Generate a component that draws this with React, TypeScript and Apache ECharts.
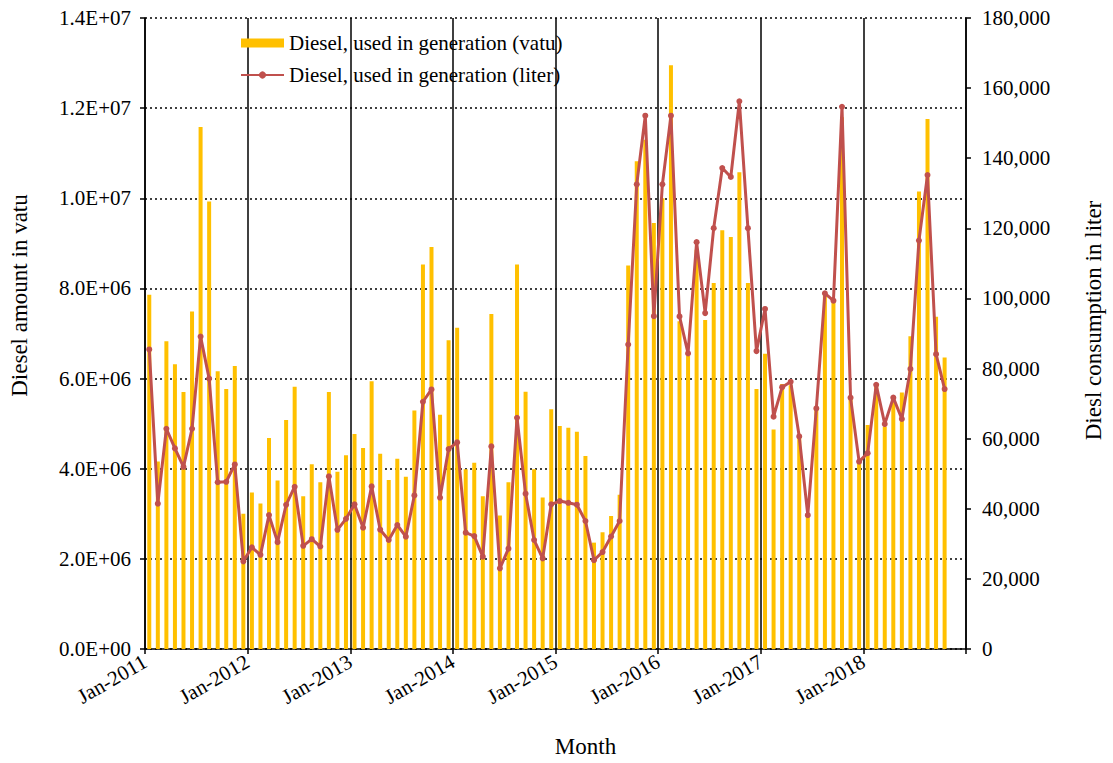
import React, { useEffect, useRef } from "react";
import * as echarts from "echarts";

const startYear = 2011;
const monthNames = ["Jan", "Feb", "Mar", "Apr", "May", "Jun", "Jul", "Aug", "Sep", "Oct", "Nov", "Dec"];

// Diesel used in generation (vatu), monthly Jan-2011 .. Oct-2018
const vatu2011 = [7.86e6, 4.16e6, 6.83e6, 6.32e6, 5.70e6, 7.49e6, 11.58e6, 9.93e6, 6.16e6, 5.77e6, 6.28e6, 3.0e6];
const vatu2012 = [3.47e6, 3.23e6, 4.68e6, 3.74e6, 5.08e6, 5.82e6, 3.39e6, 4.10e6, 3.70e6, 5.70e6, 3.93e6, 4.30e6];
const vatu2013 = [4.77e6, 4.46e6, 5.94e6, 4.33e6, 3.75e6, 4.22e6, 3.82e6, 5.29e6, 8.53e6, 8.92e6, 5.20e6, 6.85e6];
const vatu2014 = [7.13e6, 3.99e6, 4.13e6, 3.39e6, 7.43e6, 2.96e6, 3.70e6, 8.53e6, 5.71e6, 3.99e6, 3.36e6, 5.32e6];
const vatu2015 = [4.95e6, 4.91e6, 4.82e6, 4.28e6, 2.36e6, 2.59e6, 2.95e6, 3.42e6, 8.51e6, 10.82e6, 11.3e6, 9.45e6];
const vatu2016 = [10.0e6, 12.95e6, 7.27e6, 6.50e6, 8.86e6, 7.30e6, 8.12e6, 9.29e6, 9.14e6, 10.58e6, 8.12e6, 5.77e6];
const vatu2017 = [6.55e6, 4.87e6, 5.88e6, 5.85e6, 4.70e6, 2.97e6, 5.34e6, 7.89e6, 7.73e6, 11.8e6, 5.55e6, 4.16e6];
const vatu2018 = [4.97e6, 5.88e6, 4.93e6, 5.51e6, 5.69e6, 6.94e6, 10.15e6, 11.76e6, 7.37e6, 6.47e6];

// Diesel used in generation (liter)
const liter2011 = [85450, 41450, 62830, 57230, 51940, 62830, 89110, 77140, 47560, 47700, 52650, 25000];
const liter2012 = [29000, 26860, 38190, 30480, 41140, 46290, 29430, 31330, 29240, 49240, 34000, 37140];
const liter2013 = [41260, 34600, 46390, 34030, 31090, 35370, 32030, 43820, 70530, 74050, 43160, 57040];
const liter2014 = [58940, 33180, 32220, 26330, 57800, 23000, 28610, 65970, 44300, 31090, 25860, 41260];
const liter2015 = [42210, 41710, 41160, 36510, 25340, 27660, 32090, 36510, 86860, 132550, 152140, 94930];
const liter2016 = [132550, 152140, 94880, 84310, 116060, 95820, 120050, 137200, 134660, 156240, 120050, 84980];
const liter2017 = [97000, 66270, 74680, 76230, 60630, 38170, 68630, 101450, 99350, 154680, 71700, 53440];
const liter2018 = [55870, 75350, 64170, 71700, 65610, 79890, 116510, 135220, 84090, 74150];

const vatu = [...vatu2011, ...vatu2012, ...vatu2013, ...vatu2014, ...vatu2015, ...vatu2016, ...vatu2017, ...vatu2018];
const liter = [...liter2011, ...liter2012, ...liter2013, ...liter2014, ...liter2015, ...liter2016, ...liter2017, ...liter2018];
const months = vatu.map((_, i) => `${monthNames[i % 12]}-${startYear + Math.floor(i / 12)}`);

const totalMonths = 96; // axis spans Jan-2011 .. Jan-2019
const nameVatu = "Diesel, used in generation (vatu)";
const nameLiter = "Diesel, used in generation (liter)";

const FONT = "'Liberation Serif', 'Times New Roman', serif";

function sci(v: number): string {
  if (v === 0) return "0.0E+00";
  const e = Math.floor(Math.log10(v) + 1e-9);
  const m = v / Math.pow(10, e);
  return `${m.toFixed(1)}E+${String(e).padStart(2, "0")}`;
}

export default function App() {
  const ref = useRef<HTMLDivElement>(null);
  useEffect(() => {
    if (!ref.current) return;
    const chart = echarts.init(ref.current, undefined, { renderer: "svg" });
    chart.setOption({
      animation: false,
      backgroundColor: "#ffffff",
      textStyle: { fontFamily: FONT, color: "#000" },
      grid: { left: 145, right: 137, top: 18, bottom: 104, containLabel: false },
      legend: {
        left: 235,
        top: 27,
        orient: "vertical",
        itemWidth: 43,
        itemHeight: 9,
        itemGap: 10,
        textStyle: { fontFamily: FONT, fontSize: 21, color: "#000", lineHeight: 22 },
        data: [{ name: nameVatu, icon: "rect" }, { name: nameLiter }],
      },
      xAxis: {
        type: "value",
        min: 0,
        max: totalMonths,
        interval: 12,
        name: "Month",
        nameLocation: "middle",
        nameGap: 86,
        nameTextStyle: { fontFamily: FONT, fontSize: 23, color: "#000", padding: [0, 0, 0, 60] },
        axisLine: { show: true, lineStyle: { color: "#000", width: 1.5 } },
        axisTick: { show: true, length: 5, lineStyle: { color: "#000", width: 1.5 } },
        axisLabel: {
          rotate: 30,
          margin: 11,
          fontFamily: FONT,
          fontSize: 21,
          color: "#000",
          showMaxLabel: true,
          formatter: (v: number) => (v < totalMonths ? `Jan-${startYear + Math.round(v / 12)}` : ""),
        },
        splitLine: { show: true, lineStyle: { color: "#000", width: 1.5, type: "solid" } },
      },
      yAxis: [
        {
          type: "value",
          min: 0,
          max: 1.4e7,
          interval: 2e6,
          name: "Diesel amount in vatu",
          nameLocation: "middle",
          nameRotate: 90,
          nameGap: 114,
          nameTextStyle: { fontFamily: FONT, fontSize: 23, color: "#000", padding: [0, 0, 0, 76] },
          axisLine: { show: true, lineStyle: { color: "#000", width: 1.5 } },
          axisTick: { show: true, length: 5, lineStyle: { color: "#000", width: 1.5 } },
          axisLabel: { fontFamily: FONT, fontSize: 21, color: "#000", margin: 14, formatter: sci },
          splitLine: { show: true, lineStyle: { color: "#000", width: 1.5, type: [2, 3] } },
        },
        {
          type: "value",
          min: 0,
          max: 180000,
          interval: 20000,
          position: "right",
          name: "Diesl consumption in liter",
          nameLocation: "middle",
          nameRotate: 90,
          nameGap: 116,
          nameTextStyle: { fontFamily: FONT, fontSize: 23, color: "#000", padding: [0, 0, 0, 26] },
          axisLine: { show: true, lineStyle: { color: "#000", width: 1.5 } },
          axisTick: { show: true, length: 5, lineStyle: { color: "#000", width: 1.5 } },
          axisLabel: {
            fontFamily: FONT,
            fontSize: 21,
            color: "#000",
            margin: 16,
            formatter: (v: number) => v.toLocaleString("en-US"),
          },
          splitLine: { show: false },
        },
      ],
      series: [
        {
          name: nameVatu,
          type: "bar",
          yAxisIndex: 0,
          barWidth: 4,
          itemStyle: { color: "#FFC000" },
          data: vatu.map((v, i) => ({ name: months[i], value: [i + 0.5, v] })),
        },
        {
          name: nameLiter,
          type: "line",
          yAxisIndex: 1,
          symbol: "circle",
          symbolSize: 6,
          lineStyle: { color: "#C0504D", width: 3 },
          itemStyle: { color: "#C0504D" },
          data: liter.map((v, i) => ({ name: months[i], value: [i + 0.5, v] })),
          z: 5,
        },
      ],
    });
    return () => chart.dispose();
  }, []);
  return (
    <div
      ref={ref}
      style={{ position: "absolute", left: 0, top: 0, width: 1113, height: 763, background: "#fff" }}
    />
  );
}
